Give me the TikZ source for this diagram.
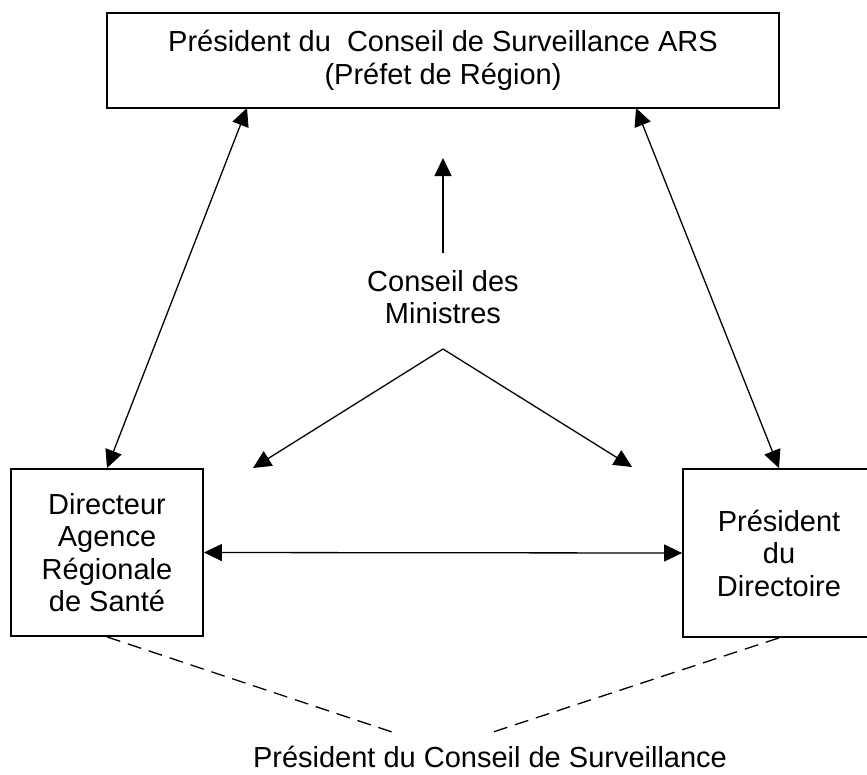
\documentclass[tikz,border=0pt]{standalone}
\usepackage{fontspec}
\setmainfont{Liberation Sans}
\usetikzlibrary{arrows.meta}
\begin{document}
\begin{tikzpicture}[x=1pt,y=-1pt,
  box/.style={draw,line width=1.8pt,inner sep=0pt,align=center,
    font=\fontsize{29}{32.5}\selectfont},
  lbl/.style={inner sep=0pt,align=center,font=\fontsize{29}{32}\selectfont},
  plain/.style={inner sep=0pt,font=\fontsize{29}{32}\selectfont},
  dbl/.style={line width=1.3pt,{Triangle[length=18pt,width=17pt]}-{Triangle[length=18pt,width=17pt]}},
  sgl/.style={line width=1.3pt,-{Triangle[length=18pt,width=17pt]}},
  dsh/.style={line width=1.3pt,dash pattern=on 14pt off 8pt}]
\useasboundingbox (0,0) rectangle (867,774);
\clip (0,0) rectangle (867,774);
\node[box,minimum width=672pt,minimum height=95pt] (top) at (443,60.5)
  {Président du\ \ Conseil de Surveillance ARS\\(Préfet de Région)};
\node[box,minimum width=192pt,minimum height=167pt] (left) at (107,552.5)
  {Directeur\\Agence\\Régionale\\de Santé};
\node[box,minimum width=192pt,minimum height=168pt] (right) at (779,553)
  {Président\\du\\Directoire};
\node[lbl] (min) at (443,297) {Conseil des\\Ministres};
\node[plain,anchor=base] (cs) at (490,767) {Président du Conseil de Surveillance};
\coordinate (tl) at (247,108);
\coordinate (tr) at (636,108);
\coordinate (vb) at (443,253);
\coordinate (vt) at (443,158);
\coordinate (apex) at (443,349);
\coordinate (vl) at (253,468);
\coordinate (vr) at (632,467);
\coordinate (dl) at (395,733);
\coordinate (dr) at (490,733);
\draw[dbl] (tl) -- (left.north);
\draw[dbl] (tr) -- (right.north);
\draw[dbl] (left.east) -- (right.west);
\draw[sgl] (vb) -- (vt);
\draw[sgl] (apex) -- (vl);
\draw[sgl] (apex) -- (vr);
\draw[dsh] (left.south) -- (dl);
\draw[dsh] (right.south) -- (dr);
\end{tikzpicture}
\end{document}
